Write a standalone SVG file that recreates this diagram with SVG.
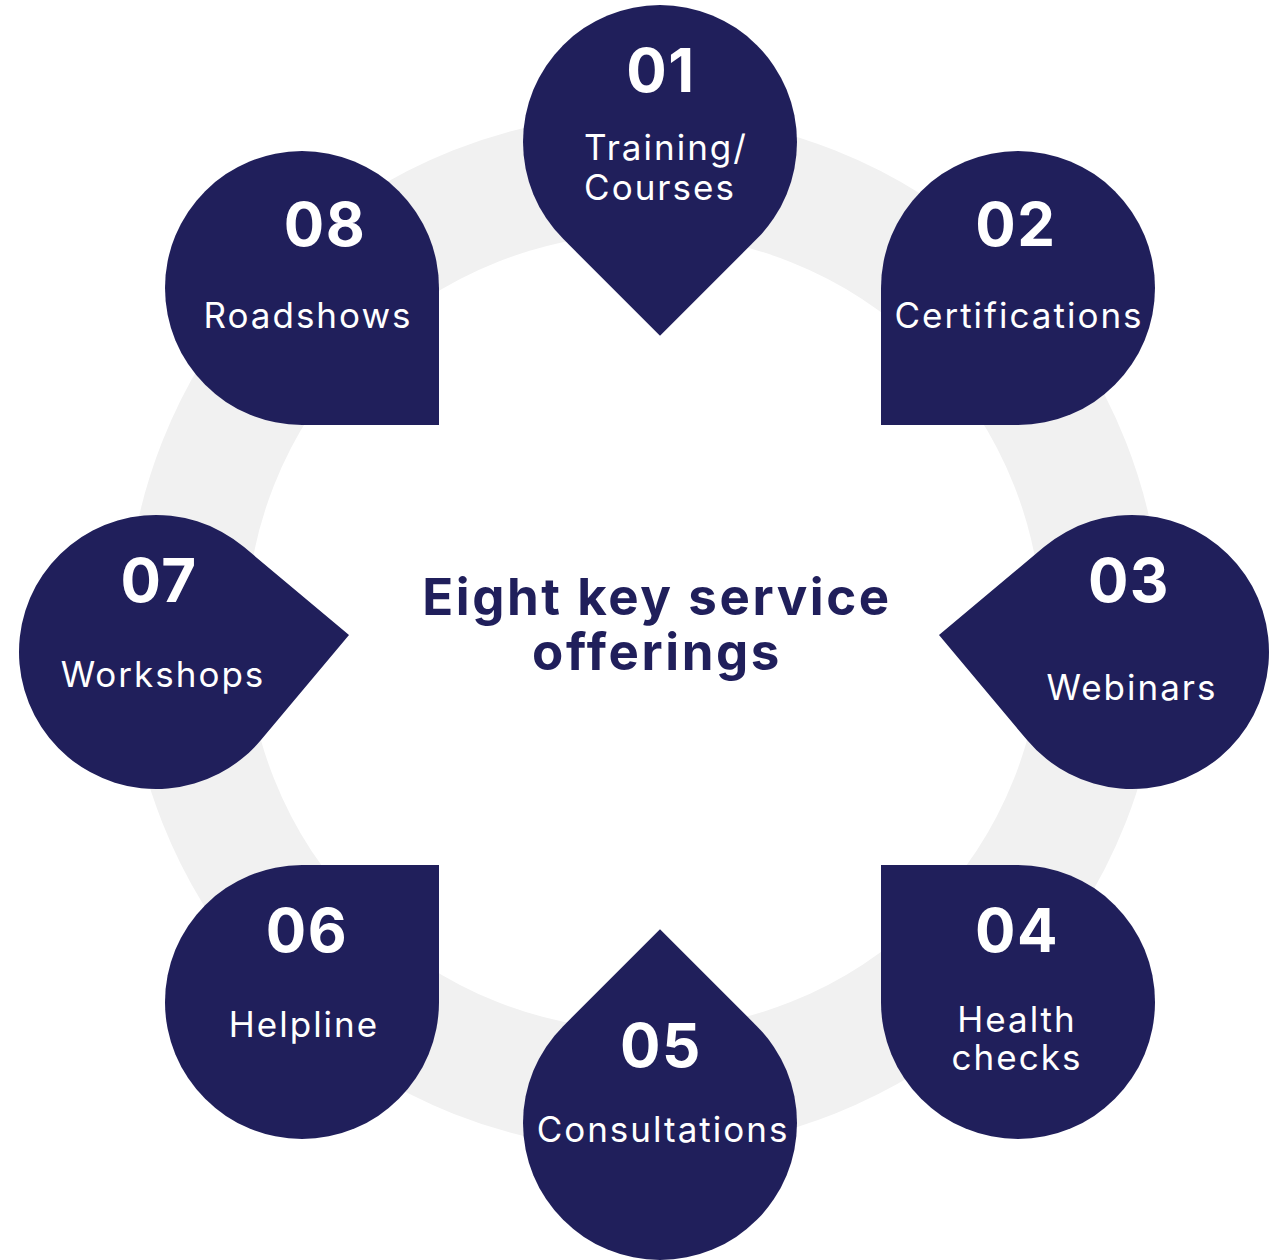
<svg xmlns="http://www.w3.org/2000/svg" xmlns:xlink="http://www.w3.org/1999/xlink" width="1279" height="1260" viewBox="0 0 1279 1260">
  <style>
    .shape { fill: #201f5b; }
    .num { font-family: Inter, "Open Sans", "Liberation Sans", sans-serif; font-weight: 700; font-size: 60px; letter-spacing: 1.5px; fill: #ffffff; text-anchor: middle; }
    .lbl { font-family: Inter, "Open Sans", "Liberation Sans", sans-serif; font-weight: 400; font-size: 35px; letter-spacing: 2px; fill: #ffffff; text-anchor: middle; }
    .title { font-family: Inter, "Open Sans", "Liberation Sans", sans-serif; font-weight: 700; font-size: 51px; letter-spacing: 2.6px; fill: #201f5b; text-anchor: middle; }
  </style>
  <defs>
    <path id="tear" d="M137,0 A137,137 0 1 0 0,137 L137,137 Z"/>
  </defs>
  <rect width="1279" height="1260" fill="#ffffff"/>
  <g id="connectors">
    <circle cx="644" cy="632" r="458" fill="none" stroke="#f1f1f1" stroke-width="120"/>
  </g>
  <g id="title">
    <text class="title" x="657" y="615">Eight key service</text>
    <text class="title" x="657" y="670">offerings</text>
  </g>
  <g id="node-01">
    <use href="#tear" class="shape" transform="translate(660,142) rotate(45)"/>
    <text class="num" x="661" y="92">01</text>
    <text class="lbl" x="666" y="160">Training/</text>
    <text class="lbl" x="660" y="200">Courses</text>
  </g>
  <g id="node-02">
    <use href="#tear" class="shape" transform="translate(1018,288) rotate(90)"/>
    <text class="num" x="1016" y="246">02</text>
    <text class="lbl" x="1019" y="328">Certifications</text>
  </g>
  <g id="node-03">
    <use href="#tear" class="shape" transform="translate(1132,652) rotate(140)"/>
    <text class="num" x="1129" y="602">03</text>
    <text class="lbl" x="1132" y="700">Webinars</text>
  </g>
  <g id="node-04">
    <use href="#tear" class="shape" transform="translate(1018,1002) rotate(180)"/>
    <text class="num" x="1017" y="952">04</text>
    <text class="lbl" x="1017" y="1032">Health</text>
    <text class="lbl" x="1017" y="1070">checks</text>
  </g>
  <g id="node-05">
    <use href="#tear" class="shape" transform="translate(660,1123) rotate(-135)"/>
    <text class="num" x="661" y="1067">05</text>
    <text class="lbl" x="663" y="1142">Consultations</text>
  </g>
  <g id="node-06">
    <use href="#tear" class="shape" transform="translate(302,1002) rotate(-90)"/>
    <text class="num" x="307" y="952">06</text>
    <text class="lbl" x="304" y="1037">Helpline</text>
  </g>
  <g id="node-07">
    <use href="#tear" class="shape" transform="translate(156,652) rotate(-50)"/>
    <text class="num" x="159" y="602">07</text>
    <text class="lbl" x="163" y="687">Workshops</text>
  </g>
  <g id="node-08">
    <use href="#tear" class="shape" transform="translate(302,288) rotate(0)"/>
    <text class="num" x="325" y="246">08</text>
    <text class="lbl" x="308" y="328">Roadshows</text>
  </g>
</svg>
